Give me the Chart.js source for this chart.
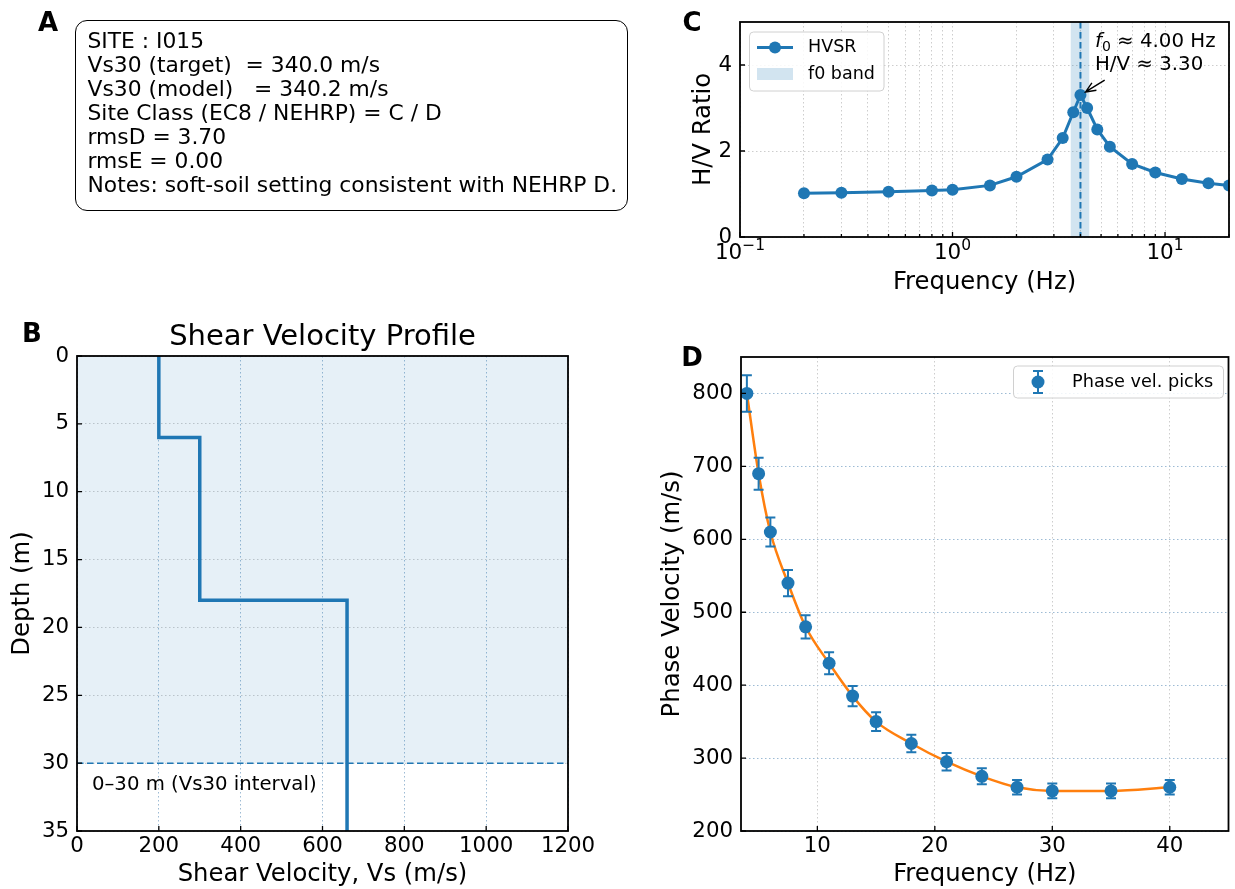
<!DOCTYPE html>
<html>
<head>
<meta charset="utf-8">
<script src="https://cdn.jsdelivr.net/npm/chart.js@4"></script>
<style>
  body { margin: 0; background: #fff; }
  #wrap { position: relative; width: 1235px; height: 889px; overflow: hidden; font-family: 'DejaVu Sans', sans-serif; }
  canvas { position: absolute; left: 0; top: 0; }
  .tag { position: absolute; font-weight: bold; font-size: 26px; line-height: 26px; transform: translate(-50%, -50%); }
  #info { position: absolute; left: 75px; top: 20px; width: 553px; height: 191px; box-sizing: border-box;
          border: 1.5px solid #000; border-radius: 12px; padding: 7.5px 0 0 11.5px;
          font-size: 21.8px; line-height: 24px; white-space: pre; }
</style>
</head>
<body>
<div id="wrap">
  <canvas id="chartB" width="1235" height="889"></canvas>
  <canvas id="chartC" width="1235" height="889"></canvas>
  <canvas id="chartD" width="1235" height="889"></canvas>
  <div id="info"></div>
  <div class="tag" style="left:48px;top:22px">A</div>
  <div class="tag" style="left:32px;top:333px">B</div>
  <div class="tag" style="left:692px;top:22px">C</div>
  <div class="tag" style="left:692px;top:357px">D</div>
</div>
<script>
// パネルA: サイト情報
const siteInfo = [
    'SITE : I015',
    'Vs30 (target)  = 340.0 m/s',
    'Vs30 (model)   = 340.2 m/s',
    'Site Class (EC8 / NEHRP) = C / D',
    'rmsD = 3.70',
    'rmsE = 0.00',
    'Notes: soft-soil setting consistent with NEHRP D.'
];

// パネルB: Vs プロファイル
const layerTop = [0, 6, 18];
const layerBottom = [6, 18, 35];
const layerVs = [200, 300, 660];
const vs30Depth = 30;
const profXTicks = [0, 200, 400, 600, 800, 1000, 1200];
const profYTicks = [0, 5, 10, 15, 20, 25, 30, 35];

// パネルC: HVSR
const hvFreq = [0.2, 0.3, 0.5, 0.8, 1.0, 1.5, 2.0, 2.8, 3.3, 3.7, 4.0, 4.3, 4.8, 5.5, 7.0, 9.0, 12, 16, 20];
const hvRatio = [1.02, 1.03, 1.05, 1.08, 1.1, 1.2, 1.4, 1.8, 2.3, 2.9, 3.3, 3.0, 2.5, 2.1, 1.7, 1.5, 1.35, 1.25, 1.2];
const f0 = 4.0;
const f0Peak = 3.3;
const f0Band = [3.6, 4.4];
const hvYTicks = [0, 2, 4];
const hvXMajor = [0.1, 1, 10];
const hvXExp = ['\u22121', '0', '1'];

// パネルD: 位相速度
const dispFreq = [4, 5, 6, 7.5, 9, 11, 13, 15, 18, 21, 24, 27, 30, 35, 40];
const dispVel = [800, 690, 610, 540, 480, 430, 385, 350, 320, 295, 275, 260, 255, 255, 260];
const dispErr = [25, 22, 20, 18, 16, 15, 14, 13, 12, 12, 11, 10, 10, 10, 10];
const dispXTicks = [10, 20, 30, 40];
const dispYTicks = [200, 300, 400, 500, 600, 700, 800];

const C0 = '#1f77b4';
const C1 = '#ff7f0e';
const gridGray = '#cdcdcd';
const gridBlue = '#9dbbd4';

Chart.defaults.font.family = "'DejaVu Sans', sans-serif";
Chart.defaults.color = '#000';
Chart.defaults.animation = false;
Chart.defaults.events = [];
Chart.defaults.plugins.legend.display = false;
Chart.defaults.plugins.tooltip.enabled = false;

document.getElementById('info').textContent = siteInfo.join('\n');

// 軸の共通設定
function axis(o) {
    return {
        type: o.type || 'linear',
        position: o.position,
        min: o.min,
        max: o.max,
        reverse: !!o.reverse,
        afterBuildTicks: s => { s.ticks = o.ticks.map(t => (typeof t === 'object' ? t : {value: t})); },
        afterFit: s => { if (o.position === 'left') s.width = o.size; else s.height = o.size; },
        grid: {color: o.gridColor, lineWidth: 1, drawTicks: false},
        border: {display: false, dash: [1.5, 2.5]},
        ticks: {font: {size: 21.3}, padding: o.pad, autoSkip: false, maxRotation: 0,
                callback: o.callback || (v => String(v))},
        title: {display: true, text: o.title, font: {size: 24.3}, padding: 0}
    };
}

// 枠線と内向きの目盛り
const framePlugin = {
    id: 'frame',
    afterDatasetsDraw(chart) {
        const {ctx, chartArea: a, scales: {x, y}} = chart;
        ctx.save();
        ctx.strokeStyle = '#000';
        ctx.lineWidth = 1.3;
        ctx.beginPath();
        x.ticks.forEach(t => {
            const px = x.getPixelForValue(t.value);
            const len = t.minor ? 3 : 5;
            ctx.moveTo(px, a.bottom); ctx.lineTo(px, a.bottom - len);
        });
        y.ticks.forEach(t => {
            const py = y.getPixelForValue(t.value);
            ctx.moveTo(a.left, py); ctx.lineTo(a.left + 5, py);
        });
        ctx.stroke();
        ctx.lineWidth = 1.8;
        ctx.strokeRect(a.left, a.top, a.right - a.left, a.bottom - a.top);
        ctx.restore();
    }
};

// パネルB
const profilePts = [];
layerVs.forEach((v, i) => {
    profilePts.push({x: v, y: layerTop[i]});
    profilePts.push({x: v, y: layerBottom[i]});
});

const profilePlugin = {
    id: 'profileExtras',
    beforeDatasetsDraw(chart) {
        const {ctx, chartArea: a, scales: {y}} = chart;
        const y0 = y.getPixelForValue(0);
        const y30 = y.getPixelForValue(vs30Depth);
        ctx.save();
        ctx.fillStyle = 'rgba(31,119,180,0.11)';
        ctx.fillRect(a.left, y0, a.right - a.left, y30 - y0);
        ctx.strokeStyle = C0;
        ctx.lineWidth = 1.5;
        ctx.setLineDash([6.5, 3.5]);
        ctx.beginPath();
        ctx.moveTo(a.left, y30); ctx.lineTo(a.right, y30);
        ctx.stroke();
        ctx.setLineDash([]);
        ctx.fillStyle = '#000';
        ctx.font = "19.7px 'DejaVu Sans'";
        ctx.textBaseline = 'middle';
        ctx.fillText('0\u2013' + vs30Depth + ' m (Vs30 interval)', a.left + 15, y30 + 22);
        ctx.restore();
    },
    afterDraw(chart) {
        const {ctx, chartArea: a} = chart;
        ctx.save();
        ctx.fillStyle = '#000';
        ctx.font = "29px 'DejaVu Sans'";
        ctx.textAlign = 'center';
        ctx.textBaseline = 'middle';
        ctx.fillText('Shear Velocity Profile', (a.left + a.right) / 2, a.top - 19);
        ctx.restore();
    }
};

new Chart(document.getElementById('chartB'), {
    type: 'line',
    data: {
        datasets: [{
            data: profilePts,
            borderColor: C0,
            borderWidth: 3.5,
            pointRadius: 0,
            tension: 0
        }]
    },
    options: {
        responsive: false,
        layout: {padding: {left: 7.6, top: 356, right: 667, bottom: 0}},
        scales: {
            x: axis({position: 'bottom', min: 0, max: 1200, ticks: profXTicks, size: 58, pad: 3,
                     gridColor: gridBlue, title: 'Shear Velocity, Vs (m/s)'}),
            y: axis({position: 'left', min: 0, max: 35, reverse: true, ticks: profYTicks, size: 69.4, pad: 8,
                     gridColor: gridGray, title: 'Depth (m)'})
        }
    },
    plugins: [profilePlugin, framePlugin]
});

// パネルC
const hvGridTicks = [];
hvXMajor.forEach(d => {
    for (let k = 1; k <= 9; k++) {
        const v = +(d * k).toPrecision(3);
        if (v <= 20) hvGridTicks.push({value: v, minor: k !== 1});
    }
});

function drawArrow(ctx, x1, y1, x2, y2) {
    const ang = Math.atan2(y2 - y1, x2 - x1);
    const h = 11;
    ctx.beginPath();
    ctx.moveTo(x1, y1); ctx.lineTo(x2, y2);
    ctx.moveTo(x2 - h * Math.cos(ang - 0.4), y2 - h * Math.sin(ang - 0.4));
    ctx.lineTo(x2, y2);
    ctx.lineTo(x2 - h * Math.cos(ang + 0.4), y2 - h * Math.sin(ang + 0.4));
    ctx.stroke();
}

const hvsrPlugin = {
    id: 'hvsrExtras',
    beforeDatasetsDraw(chart) {
        const {ctx, chartArea: a, scales: {x}} = chart;
        const b1 = x.getPixelForValue(f0Band[0]);
        const b2 = x.getPixelForValue(f0Band[1]);
        const xf = x.getPixelForValue(f0);
        ctx.save();
        ctx.fillStyle = 'rgba(31,119,180,0.2)';
        ctx.fillRect(b1, a.top, b2 - b1, a.bottom - a.top);
        ctx.strokeStyle = C0;
        ctx.lineWidth = 2;
        ctx.setLineDash([6.5, 3.5]);
        ctx.beginPath();
        ctx.moveTo(xf, a.top); ctx.lineTo(xf, a.bottom);
        ctx.stroke();
        ctx.restore();
    },
    afterDraw(chart) {
        const {ctx, chartArea: a, scales: {x, y}} = chart;
        ctx.save();
        ctx.fillStyle = '#000';
        ctx.textBaseline = 'middle';
        // x軸ラベル 10^n
        hvXMajor.forEach((v, i) => {
            const px = x.getPixelForValue(v);
            ctx.font = "21.5px 'DejaVu Sans'";
            const w1 = ctx.measureText('10').width;
            ctx.font = "15.5px 'DejaVu Sans'";
            const w2 = ctx.measureText(hvXExp[i]).width;
            const left = px - (w1 + w2) / 2;
            ctx.font = "21.5px 'DejaVu Sans'";
            ctx.fillText('10', left, a.bottom + 16);
            ctx.font = "15.5px 'DejaVu Sans'";
            ctx.fillText(hvXExp[i], left + w1, a.bottom + 9);
        });

        // 凡例
        ctx.fillStyle = 'rgba(255,255,255,0.85)';
        ctx.strokeStyle = '#d0d0d0';
        ctx.lineWidth = 1;
        ctx.beginPath();
        ctx.roundRect(749.5, 32, 134.5, 59, 4);
        ctx.fill(); ctx.stroke();
        ctx.strokeStyle = C0;
        ctx.lineWidth = 3;
        ctx.beginPath();
        ctx.moveTo(757, 47.5); ctx.lineTo(793, 47.5);
        ctx.stroke();
        ctx.fillStyle = C0;
        ctx.beginPath();
        ctx.arc(775, 47.5, 6, 0, Math.PI * 2);
        ctx.fill();
        ctx.fillStyle = 'rgba(31,119,180,0.2)';
        ctx.fillRect(757, 68, 36, 12);
        ctx.fillStyle = '#000';
        ctx.font = "17.5px 'DejaVu Sans'";
        ctx.fillText('HVSR', 808, 47.5);
        ctx.fillText('f0 band', 808, 74.5);

        // 注記
        const tx = x.getPixelForValue(4.68);
        const ty = y.getPixelForValue(4.53);
        ctx.font = "italic 19.8px 'DejaVu Sans'";
        ctx.fillText('f', tx, ty);
        let cx = tx + ctx.measureText('f').width;
        ctx.font = "14px 'DejaVu Sans'";
        ctx.fillText('0', cx, ty + 5);
        cx += ctx.measureText('0').width;
        ctx.font = "19.8px 'DejaVu Sans'";
        ctx.fillText(' \u2248 ' + f0.toFixed(2) + ' Hz', cx, ty);
        ctx.fillText('H/V \u2248 ' + f0Peak.toFixed(2), tx, ty + 23);

        const px = x.getPixelForValue(f0);
        const py = y.getPixelForValue(f0Peak);
        const ax = x.getPixelForValue(5.2);
        const ay = y.getPixelForValue(3.65);
        const d = Math.hypot(ax - px, ay - py);
        ctx.strokeStyle = '#000';
        ctx.lineWidth = 1.4;
        drawArrow(ctx, ax, ay, px + (ax - px) * 6 / d, py + (ay - py) * 6 / d);
        ctx.restore();
    }
};

new Chart(document.getElementById('chartC'), {
    type: 'line',
    data: {
        datasets: [{
            data: hvFreq.map((f, i) => ({x: f, y: hvRatio[i]})),
            borderColor: C0,
            backgroundColor: C0,
            borderWidth: 3,
            pointRadius: 6,
            pointBorderWidth: 0,
            pointBackgroundColor: C0,
            tension: 0
        }]
    },
    options: {
        responsive: false,
        layout: {padding: {left: 688.6, top: 22, right: 3, bottom: 591.6}},
        scales: {
            x: axis({type: 'logarithmic', position: 'bottom', min: 0.1, max: 20, ticks: hvGridTicks, size: 60.4,
                     pad: 3, gridColor: gridGray, title: 'Frequency (Hz)', callback: () => ''}),
            y: axis({position: 'left', min: 0, max: 5, ticks: hvYTicks, size: 51.4, pad: 8,
                     gridColor: gridGray, title: 'H/V Ratio'})
        }
    },
    plugins: [hvsrPlugin, framePlugin]
});

// パネルD
const errorBarPlugin = {
    id: 'errorBars',
    beforeDatasetDraw(chart, args) {
        if (args.index !== 0) return;
        const {ctx, scales: {x, y}} = chart;
        ctx.save();
        ctx.strokeStyle = C0;
        ctx.lineWidth = 2;
        ctx.beginPath();
        dispFreq.forEach((f, i) => {
            const px = x.getPixelForValue(f);
            const y1 = y.getPixelForValue(dispVel[i] - dispErr[i]);
            const y2 = y.getPixelForValue(dispVel[i] + dispErr[i]);
            ctx.moveTo(px, y1); ctx.lineTo(px, y2);
            ctx.moveTo(px - 5, y1); ctx.lineTo(px + 5, y1);
            ctx.moveTo(px - 5, y2); ctx.lineTo(px + 5, y2);
        });
        ctx.stroke();
        ctx.restore();
    },
    afterDraw(chart) {
        const {ctx} = chart;
        ctx.save();
        ctx.fillStyle = 'rgba(255,255,255,0.85)';
        ctx.strokeStyle = '#d0d0d0';
        ctx.lineWidth = 1;
        ctx.beginPath();
        ctx.roundRect(1013.5, 366, 210, 32, 4);
        ctx.fill(); ctx.stroke();
        ctx.strokeStyle = C0;
        ctx.lineWidth = 2;
        ctx.beginPath();
        ctx.moveTo(1038, 371); ctx.lineTo(1038, 393);
        ctx.moveTo(1033, 371); ctx.lineTo(1043, 371);
        ctx.moveTo(1033, 393); ctx.lineTo(1043, 393);
        ctx.stroke();
        ctx.fillStyle = C0;
        ctx.beginPath();
        ctx.arc(1038, 382, 6.5, 0, Math.PI * 2);
        ctx.fill();
        ctx.fillStyle = '#000';
        ctx.font = "17.7px 'DejaVu Sans'";
        ctx.textBaseline = 'middle';
        ctx.fillText('Phase vel. picks', 1072, 382);
        ctx.restore();
    }
};

new Chart(document.getElementById('chartD'), {
    type: 'line',
    data: {
        datasets: [{
            data: dispFreq.map((f, i) => ({x: f, y: dispVel[i]})),
            showLine: false,
            pointRadius: 6.5,
            pointBorderWidth: 0,
            pointBackgroundColor: C0,
            borderColor: C0
        }, {
            data: dispFreq.map((f, i) => ({x: f, y: dispVel[i]})),
            borderColor: C1,
            borderWidth: 2.5,
            pointRadius: 0,
            cubicInterpolationMode: 'monotone'
        }]
    },
    options: {
        responsive: false,
        layout: {padding: {left: 657.6, top: 357, right: 3, bottom: 0}},
        scales: {
            x: axis({position: 'bottom', min: 3.5, max: 45, ticks: dispXTicks, size: 58, pad: 3,
                     gridColor: gridGray, title: 'Frequency (Hz)'}),
            y: axis({position: 'left', min: 200, max: 850, ticks: dispYTicks, size: 83.4, pad: 8,
                     gridColor: gridBlue, title: 'Phase Velocity (m/s)'})
        }
    },
    plugins: [errorBarPlugin, framePlugin]
});
</script>
</body>
</html>
